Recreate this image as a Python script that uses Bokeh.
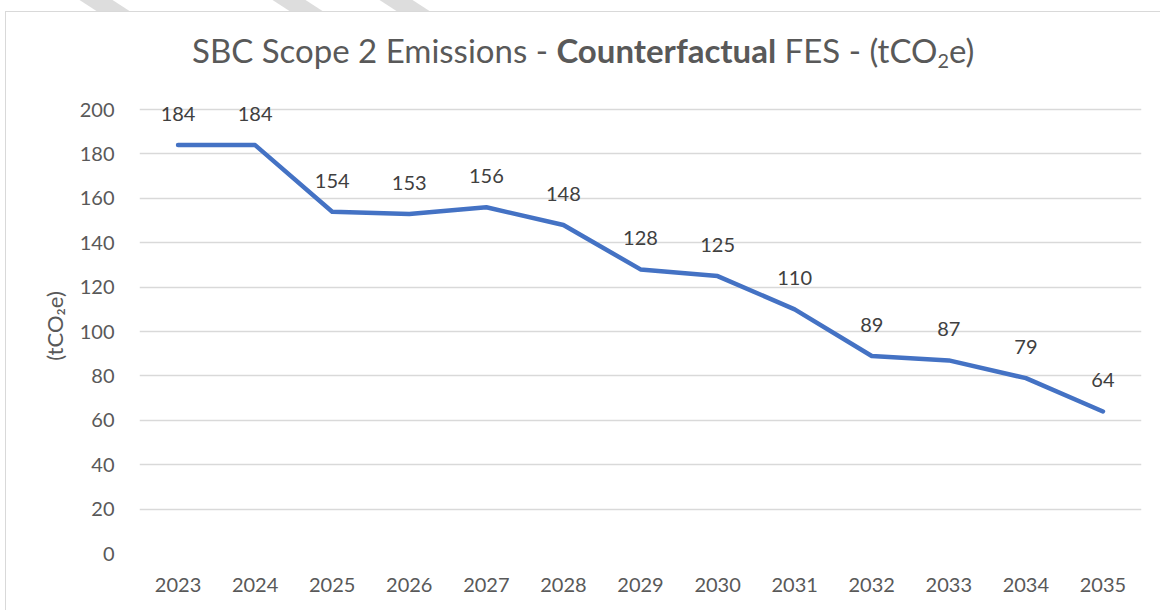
from bokeh.plotting import figure
from bokeh.models import ColumnDataSource, FactorRange, Range1d, Div
from bokeh.layouts import column
from bokeh.core.properties import value
from bokeh.embed import file_html
from bokeh.resources import INLINE

years = ["2023", "2024", "2025", "2026", "2027", "2028", "2029",
         "2030", "2031", "2032", "2033", "2034", "2035"]
emissions = [184, 184, 154, 153, 156, 148, 128, 125, 110, 89, 87, 79, 64]
y_ticks = [0, 20, 40, 60, 80, 100, 120, 140, 160, 180, 200]
y_axis_label = "(tCO\u2082e)"
title_html = ("SBC Scope 2 Emissions - <b>Counterfactual</b> FES - "
              "(tCO<sub style='font-size:60%;vertical-align:-0.25em;'>2</sub>e)")

FONT = "Lato"
TXT = "#595959"

src = ColumnDataSource(dict(year=years, value=emissions,
                            label=[str(v) for v in emissions]))

stripe = ("<div style=\"position:absolute;top:0;left:{}px;width:33px;height:11px;"
          "background:#dddddd;transform:skewX(57deg);\"></div>")
stripes = "".join(stripe.format(l) for l in (88, 281, 388))

title_div = Div(
    text=("<div style=\"position:relative;\">" + stripes +
          "<div style=\"position:absolute;left:5px;top:11px;width:3000px;height:3000px;"
          "border-left:1.5px solid #d9d9d9;border-top:1.5px solid #d9d9d9;"
          "z-index:10;pointer-events:none;\"></div>"
          "<div style=\"padding-top:31px;padding-left:192px;font-family:Lato;"
          "font-size:33px;line-height:38px;color:#595959;text-align:left;"
          "white-space:nowrap;\">" + title_html + "</div></div>"),
    width=1144, height=79, margin=(0, 0, 0, 0))

p = figure(width=1144, height=523,
           x_range=FactorRange(*years, range_padding=0),
           y_range=Range1d(0, 205),
           output_backend="svg", toolbar_location=None,
           min_border_left=139, min_border_right=3,
           min_border_top=19, min_border_bottom=49,
           margin=(0, 0, 0, 0))

p.outline_line_color = None
p.background_fill_color = "white"
p.border_fill_color = "white"

p.xgrid.grid_line_color = None
p.ygrid.grid_line_color = "#d9d9d9"
p.ygrid.grid_line_width = 1.5

for ax in (p.xaxis[0], p.yaxis[0]):
    ax.axis_line_color = None
    ax.major_tick_line_color = None
    ax.minor_tick_line_color = None
    ax.major_label_text_font = FONT
    ax.major_label_text_font_size = "20px"
    ax.major_label_text_color = TXT

p.yaxis.ticker = y_ticks
p.yaxis.major_label_standoff = 19
p.xaxis.major_label_standoff = 18
p.yaxis.axis_label = y_axis_label
p.yaxis.axis_label_text_font = FONT
p.yaxis.axis_label_text_font_size = "22px"
p.yaxis.axis_label_text_font_style = "normal"
p.yaxis.axis_label_text_color = TXT
p.yaxis.axis_label_standoff = 9

p.line(x="year", y="value", source=src, line_color="#4472C4",
       line_width=4.5, line_cap="round", line_join="round")

p.text(x="year", y="value", text="label", source=src,
       text_font=value(FONT), text_font_size="20px", text_color="#404040",
       text_align="center", text_baseline="alphabetic", y_offset=-31)

layout = column(title_div, p, spacing=0)

open("out.html", "w").write(file_html(layout, INLINE))
